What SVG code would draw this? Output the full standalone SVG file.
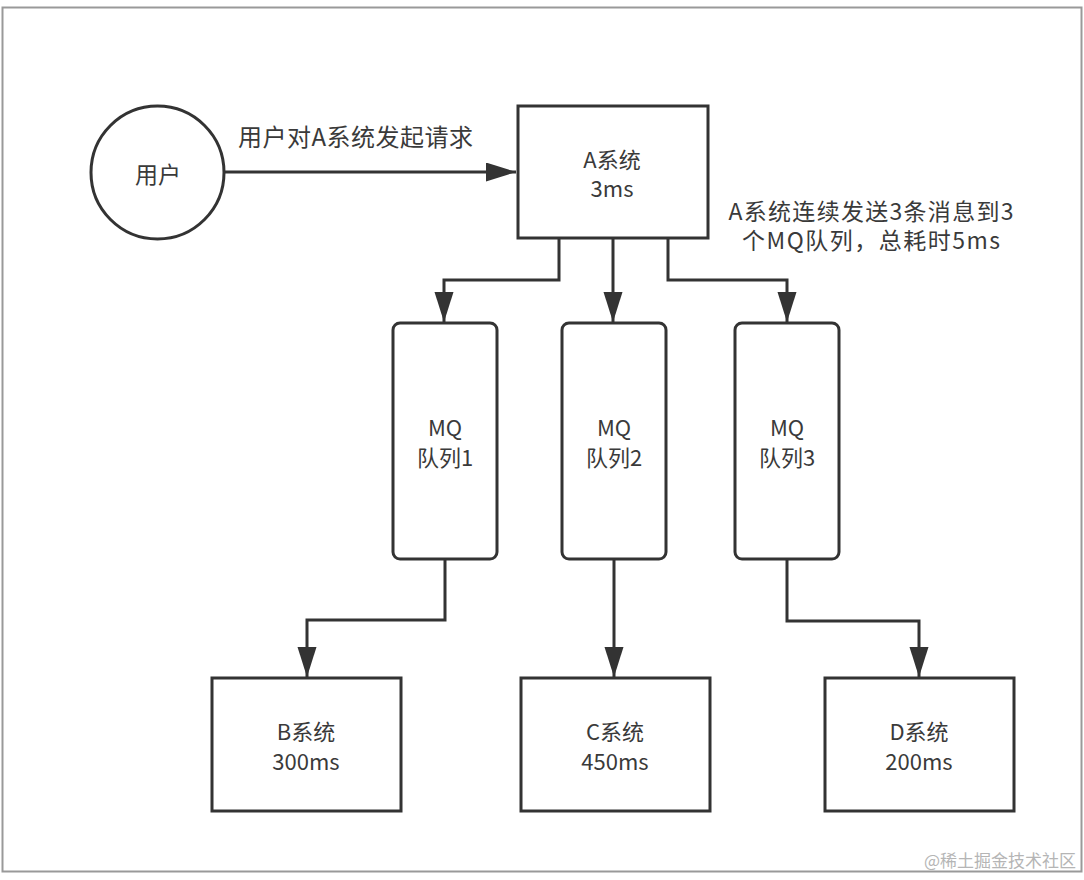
<svg xmlns="http://www.w3.org/2000/svg" width="1084" height="880" viewBox="0 0 1084 880">
<style>
.n{fill:#fff;stroke:#333;stroke-width:3}
.c{fill:none;stroke:#333;stroke-width:3}
text{font-family:"Noto Sans CJK SC","Liberation Sans",sans-serif;fill:#3a3a3a;font-size:22px}
.m{text-anchor:middle}
.lbl{font-size:24px}
.note{font-size:23px}
.wm{font-size:17px;fill:#b5b5b5;text-anchor:end}
</style>
<defs>
<marker id="ah" markerUnits="userSpaceOnUse" markerWidth="30" markerHeight="20" refX="30" refY="9.5" orient="auto">
<path d="M0,0 L30,9.5 L0,19 z" fill="#333"/>
</marker>
</defs>
<rect x="2.5" y="7.5" width="1079" height="864" fill="#fff" stroke="#999" stroke-width="2"/>
<g id="connectors">
<path class="c" d="M225,172 H516" marker-end="url(#ah)"/>
<path class="c" d="M559,238 V280 H444 V322" marker-end="url(#ah)"/>
<path class="c" d="M613,238 V322" marker-end="url(#ah)"/>
<path class="c" d="M668,238 V280 H787 V322" marker-end="url(#ah)"/>
<path class="c" d="M445,559 V620 H307 V677" marker-end="url(#ah)"/>
<path class="c" d="M614,559 V677" marker-end="url(#ah)"/>
<path class="c" d="M787,559 V621 H919 V677" marker-end="url(#ah)"/>
<text class="lbl" x="238" y="146" textLength="235" lengthAdjust="spacing">用户对A系统发起请求</text>
<text class="m note" x="871" y="220" textLength="285" lengthAdjust="spacing">A系统连续发送3条消息到3</text>
<text class="m note" x="871" y="249" textLength="258" lengthAdjust="spacing">个MQ队列，总耗时5ms</text>
</g>
<g id="user">
<circle class="n" cx="157.5" cy="172.5" r="66.5"/>
<text class="m note" x="158" y="183">用户</text>
</g>
<g id="sysA">
<rect class="n" x="518" y="106" width="190" height="132"/>
<text class="m" x="612" y="168">A系统</text>
<text class="m" x="612" y="197">3ms</text>
</g>
<g id="mq1">
<rect class="n" x="393" y="323" width="104" height="236" rx="7"/>
<text class="m" x="445" y="436">MQ</text>
<text class="m" x="445" y="466">队列1</text>
</g>
<g id="mq2">
<rect class="n" x="562" y="323" width="104" height="236" rx="7"/>
<text class="m" x="614" y="436">MQ</text>
<text class="m" x="614" y="466">队列2</text>
</g>
<g id="mq3">
<rect class="n" x="735" y="323" width="104" height="236" rx="7"/>
<text class="m" x="787" y="436">MQ</text>
<text class="m" x="787" y="466">队列3</text>
</g>
<g id="sysB">
<rect class="n" x="212" y="678" width="189" height="133"/>
<text class="m" x="306" y="740">B系统</text>
<text class="m" x="306" y="770">300ms</text>
</g>
<g id="sysC">
<rect class="n" x="521" y="678" width="189" height="133"/>
<text class="m" x="615" y="740">C系统</text>
<text class="m" x="615" y="770">450ms</text>
</g>
<g id="sysD">
<rect class="n" x="825" y="678" width="189" height="133"/>
<text class="m" x="919" y="740">D系统</text>
<text class="m" x="919" y="770">200ms</text>
</g>
<text class="wm" x="1076" y="867">@稀土掘金技术社区</text>
</svg>
